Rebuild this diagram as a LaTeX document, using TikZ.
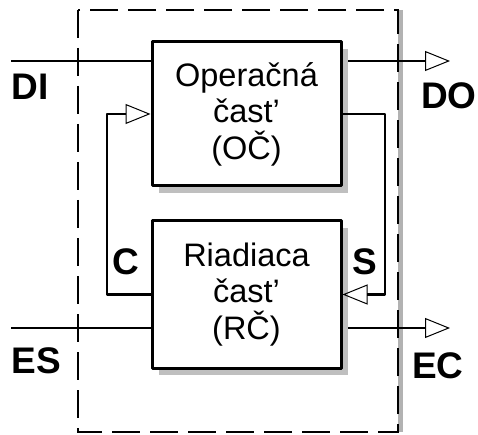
\documentclass[tikz,border=0pt]{standalone}
\usepackage{fontspec}
\setmainfont{Liberation Sans}
\usetikzlibrary{arrows.meta,shadows,backgrounds}

\begin{document}
\begin{tikzpicture}[x=1pt, y=-1pt, line join=round,
    >={Triangle[open,length=25pt,width=20pt,line width=1pt]},
    part/.style={draw, line width=3pt, fill=white, minimum width=189pt, inner sep=0pt,
      align=center, font=\fontsize{32.5}{36.5}\selectfont,
      drop shadow={shadow xshift=7pt, shadow yshift=-7pt, fill=black!25, opacity=1}},
    sig/.style={inner sep=0pt, font=\fontsize{37}{37}\selectfont\bfseries},
    wire/.style={line width=2.5pt}]
  \useasboundingbox (0,0) rectangle (478,435);
  % the two parts
  \node[part, minimum height=144pt] (oc) at (246.5,114) {Operačná\\čast’\\(OČ)};
  \node[part, minimum height=147pt] (rc) at (246.5,294.5) {Riadiaca\\čast’\\(RČ)};
  % signal names
  \node[sig] (dil) at (30,87) {DI};
  \node[sig] (dol) at (449,96) {DO};
  \node[sig] (esl) at (36,361) {ES};
  \node[sig] (ecl) at (438,366) {EC};
  \node[sig] (cl) at (126,262) {C};
  \node[sig] (sl) at (365,262) {S};
  \coordinate (di) at (11,61);
  \coordinate (do) at (450,61);
  \coordinate (es) at (11,328);
  \coordinate (ec) at (450,328);
  \coordinate (cx) at (107,0);
  \coordinate (sx) at (385,0);
  \begin{scope}[on background layer]
    % system border
    \draw[black!30, line width=5pt] (400,10) -- (400,432);
    \draw[line width=2pt, dash pattern=on 28pt off 10pt] (78,10) rectangle (398,432);
    \draw[wire] (di) -- (di -| oc.west);
    \draw[wire,->] (oc.east |- do) -- (do);
    \draw[wire] (es) -- (es -| rc.west);
    \draw[wire,->] (rc.east |- ec) -- (ec);
  \end{scope}
  % feedback
  \draw[wire,->] (rc.west) -| (cx |- oc.west) -- (oc.west);
  \draw[wire,->] (oc.east) -| (sx |- rc.east) -- (rc.east);
\end{tikzpicture}
\end{document}
